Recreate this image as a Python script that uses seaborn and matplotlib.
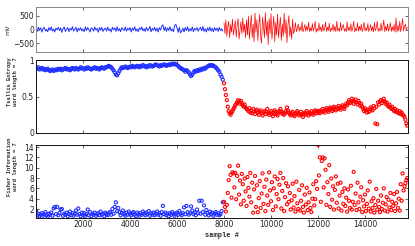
import numpy as np
import matplotlib
matplotlib.use("Agg")
import matplotlib.pyplot as plt
import seaborn as sns

# ---------------- data ----------------
# window/sample positions
blue_x = np.arange(0, 8000, 50)          # 160 windows before seizure onset
red_x = np.arange(8000, 15801, 40)       # 196 windows after onset

sig_blue = [40, -70, 85, -20, 60, -95, 30, 80, -50, 10, -80, 70, -30, 95, -60, 20, -90, 50, -10, 80,
            -40, 60, -105, 30, 90, -70, 0, 70, -80, 40, -20, 105, -60, 10, 80, -90, 50, -30, 60, -50,
            20, -80, 95, -40, 70, -10, -90, 60, 30, -60, 90, -20, 40, -100, 70, -30, 80, -70, 10, 50,
            -60, 90, -40, 20, -90, 80, -10, 60, -70, 100, -50, 30, -80, 70, 0, -40, 90, -60, 40, -20,
            70, -90, 50, -30, 100, -60, 20, -80, 60, -10, 90, -50, 30, -70, 80, -40, 10, 110, -80, 40,
            -30, 80, -60, 50, -90, 70, -20, 120, 170, -40, 90, -70, 60, -30, 100, -50, 20, -80, 140, 190,
            60, -100, 80, -120, -60, 50, -90, 70, -40, 100, -70, 30, -50, 90, -80, 40, -20, 70, -60, 20,
            80, -50, 110, -70, 30, -90, 60, -40, 90, -60, 40, -80, 70, -30, 50, -70, 80, -40, 20, -60]

sig_red = [250, -150, 350, -250, 100, 300, -300, 180, -100, 380, -200, 50, 320, -280, 150, 400, -350, -50, 280, -150,
           420, -100, 200, -300, 350,
           -200, 480, -350, 100, 520, -300, 200, -450, 600, -100, 350, -400, 150, 550, -250, -500, 450, 100, -300, 620,
           -200, 300, -550, 400, -150, 580, -350, 50, 480, -450, 250, -200, 560, -300, 100, 450, -400, 200, -250, 600,
           -150, 350, -480, 150, 500, -250, 100, -350, 380, -150,
           -50, 250, -80, 50, 200, -60, 100, -40, 280, -90, 30, 180, -70, 120, -30, 260, -80, 60, -50, 220,
           -60, 80, 300, -100, 40, -60, 240, -40, 100, -80, 190, -50, 20, 270, -70, 80, -40, 230, -90, 50,
           -30, 200, -60, 120, -80, 300, -50, 40, -70, 250, -40, 90, 180, -60, 30, -80, 280, -50, 100, -40,
           210, -70, 60, 300, -90, 40, -50, 240, -60, 120, -30, 190, -80, 50, 270, -60, 80, -40, 220, -70,
           30, 180, -50, 100, -90, 260, -40, 60, 300, -70, 40, -60, 230, -50, 90, 350, -80, 120, -40, 200,
           -60, 50, 250, -70, 100, -50, 180, -90, 420, -100, 150, -60, 300, -80, 120, 400, -50, 100, 200, -30, 80]

tsallis_blue = [0.89, 0.88, 0.9, 0.87, 0.88, 0.89, 0.87, 0.88, 0.86, 0.87, 0.88, 0.86, 0.85, 0.86, 0.87, 0.85, 0.86, 0.87, 0.86, 0.88,
                0.87, 0.88, 0.86, 0.87, 0.88, 0.89, 0.87, 0.88, 0.87, 0.86, 0.88, 0.89, 0.88, 0.87, 0.89, 0.88, 0.87, 0.88, 0.9, 0.89,
                0.88, 0.87, 0.89, 0.88, 0.9, 0.89, 0.88, 0.87, 0.88, 0.89, 0.9, 0.88, 0.89, 0.88, 0.87, 0.89, 0.9, 0.89, 0.88, 0.9,
                0.9, 0.91, 0.92, 0.91, 0.9, 0.88, 0.86, 0.83, 0.8, 0.79, 0.82, 0.85, 0.88, 0.9, 0.89, 0.9, 0.91, 0.9, 0.89, 0.9,
                0.91, 0.9, 0.92, 0.91, 0.9, 0.91, 0.92, 0.91, 0.9, 0.92, 0.91, 0.93, 0.92, 0.91, 0.9, 0.92, 0.91, 0.93, 0.92, 0.91,
                0.92, 0.93, 0.94, 0.93, 0.92, 0.91, 0.93, 0.92, 0.93, 0.94, 0.93, 0.92, 0.93, 0.94, 0.93, 0.94, 0.95, 0.94, 0.95, 0.94,
                0.93, 0.92, 0.9, 0.89, 0.88, 0.87, 0.86, 0.84, 0.86, 0.85, 0.83, 0.8, 0.78, 0.8, 0.83, 0.85, 0.84, 0.86, 0.85, 0.87,
                0.86, 0.88, 0.87, 0.89, 0.88, 0.9, 0.91, 0.92, 0.93, 0.92, 0.93, 0.92, 0.91, 0.9, 0.88, 0.86, 0.84, 0.8, 0.77, 0.73]

tsallis_red = [0.68, 0.6, 0.52, 0.45, 0.36, 0.3, 0.27, 0.25, 0.28, 0.3,
               0.33, 0.35, 0.38, 0.4, 0.42, 0.45, 0.43, 0.4, 0.44, 0.41, 0.38, 0.36, 0.39, 0.35, 0.33,
               0.32, 0.3, 0.34, 0.28, 0.31, 0.27, 0.33, 0.29, 0.26, 0.3, 0.32, 0.28, 0.25, 0.29, 0.31, 0.27, 0.24, 0.28, 0.3, 0.26,
               0.29, 0.33, 0.27, 0.25, 0.28, 0.3, 0.26, 0.23, 0.27, 0.31, 0.29, 0.26, 0.24, 0.28, 0.3, 0.33, 0.29, 0.26, 0.28, 0.25,
               0.27, 0.3, 0.35, 0.31, 0.28, 0.26, 0.24, 0.27, 0.29, 0.25, 0.23, 0.26, 0.28, 0.3, 0.27, 0.24, 0.26, 0.29, 0.25, 0.22,
               0.26, 0.28, 0.25, 0.3, 0.27, 0.24, 0.28, 0.26, 0.3, 0.27, 0.25, 0.29, 0.31, 0.27, 0.3,
               0.28, 0.3, 0.27, 0.31, 0.29, 0.33, 0.3, 0.28, 0.32, 0.34,
               0.31, 0.29, 0.33, 0.35, 0.32, 0.3, 0.34, 0.36, 0.33, 0.31,
               0.35, 0.33, 0.37, 0.34, 0.32, 0.36, 0.38, 0.35, 0.33, 0.37,
               0.4, 0.38, 0.42, 0.45, 0.41, 0.43, 0.47, 0.44, 0.4, 0.43,
               0.46, 0.42, 0.39, 0.44, 0.41, 0.37, 0.4, 0.36, 0.33, 0.3,
               0.34, 0.31, 0.28, 0.32, 0.29, 0.3, 0.35, 0.33, 0.31, 0.37,
               0.34, 0.13, 0.36, 0.12, 0.42, 0.39, 0.43, 0.45, 0.41, 0.44,
               0.47, 0.43, 0.4, 0.42, 0.38, 0.36, 0.39, 0.35, 0.33, 0.36,
               0.32, 0.3, 0.33, 0.29, 0.31, 0.28, 0.27, 0.3, 0.26, 0.28,
               0.25, 0.24, 0.22, 0.18, 0.13, 0.1]

fisher_blue = [1.6, 0.8, 1.1, 0.6, 0.9, 1.2, 0.7, 1.0, 1.4, 0.8, 0.5, 1.1, 0.9, 1.3, 0.7, 2.1, 2.4, 1.0, 2.4, 0.8,
               1.2, 1.9, 2.0, 0.7, 1.1, 0.9, 1.3, 0.6, 1.0, 1.5, 0.8, 1.2, 0.7, 1.1, 1.7, 0.9, 2.1, 1.0, 0.6, 1.3,
               0.9, 1.2, 0.7, 1.0, 1.9, 0.8, 1.4, 0.6, 1.1, 0.9, 1.3, 0.7, 1.0, 1.2, 0.8, 1.5, 0.9, 1.1, 0.6, 1.3,
               1.0, 0.8, 1.2, 1.4, 0.9, 2.0, 1.1, 2.4, 3.3, 1.6, 2.2, 1.4, 0.8, 1.2, 1.7, 1.0, 0.7, 1.3, 0.9, 1.5,
               1.1, 0.8, 1.2, 1.4, 0.9, 0.6, 1.3, 1.0, 0.7, 1.2, 0.9, 1.5, 1.1, 0.8, 1.3, 1.0, 1.6, 0.7, 1.2, 0.9,
               1.3, 0.8, 1.1, 1.5, 0.9, 1.2, 0.7, 1.4, 2.6, 1.0, 1.3, 0.8, 1.1, 0.6, 1.2, 0.9, 1.4, 1.0, 0.7, 1.1,
               1.3, 0.9, 1.6, 1.1, 0.8, 1.2, 2.3, 1.0, 2.6, 1.4, 0.9, 1.2, 2.5, 1.7, 1.0, 1.3, 0.8, 1.9, 1.2, 3.6,
               1.1, 3.6, 1.4, 2.7, 0.9, 1.8, 1.2, 0.8, 1.5, 1.0, 1.3, 0.7, 1.1, 1.4, 0.9, 1.2, 0.8, 1.0, 1.6, 3.3]

fisher_red = [3.4, 2.4, 1.5, 2.8, 5.1, 7.6, 10.3, 8.6, 4.2, 9.1,
              8.9, 6.2, 9.0, 3.9, 8.4, 10.4, 4.8, 7.5, 2.9, 8.8,
              6.8, 3.6, 7.9, 5.4, 2.6, 8.2, 6.1, 4.4, 9.0, 3.3,
              7.1, 1.3, 5.8, 8.4, 2.4, 6.6, 1.4, 4.1, 7.4, 2.2,
              5.0, 8.9, 3.0, 6.3, 1.6, 7.7, 4.6, 2.8, 9.1, 5.6,
              3.5, 7.2, 1.8, 6.0, 8.3, 2.5, 4.9, 7.8, 3.9, 6.7,
              9.0, 2.1, 5.5, 8.0, 1.6, 4.3, 7.0, 2.9, 6.4, 3.4,
              5.1, 1.9, 3.7, 6.9, 2.3, 4.5, 1.5, 7.3, 3.1, 2.0,
              5.7, 1.7, 3.6, 6.6, 2.4, 1.3, 4.8, 2.9, 6.1, 1.8,
              3.3, 5.2, 2.2, 1.4, 4.0, 6.8, 2.7, 3.9, 7.4, 5.9,
              14.4, 8.5, 12.0, 3.4, 11.3, 12.0, 6.2, 11.8, 9.6, 2.8,
              7.2, 4.9, 10.5, 2.4, 7.9, 3.8, 6.4, 1.9, 5.7, 8.3,
              3.2, 6.9, 2.1, 4.6, 7.1, 1.7, 5.3, 3.0, 6.0, 2.6,
              4.2, 1.5, 5.8, 3.6, 2.2, 6.5, 1.9, 3.4, 9.2, 2.8,
              5.0, 1.8, 7.1, 3.3, 2.0, 4.4, 6.2, 1.4, 3.7, 2.5,
              4.8, 1.6, 3.0, 5.6, 2.1, 7.3, 1.5, 3.5, 2.2, 4.1,
              1.3, 2.8, 5.9, 1.9, 3.6, 2.4, 1.4, 4.6, 2.0, 3.2,
              6.0, 1.7, 2.9, 4.3, 1.5, 3.8, 2.3, 5.1, 1.8, 3.4,
              2.6, 4.9, 1.6, 3.1, 5.3, 2.2, 4.0, 1.7, 6.8, 3.6,
              8.9, 5.6, 6.4, 7.0, 7.6, 8.0]

xticks = [2000, 4000, 6000, 8000, 10000, 12000, 14000]

# ---------------- plotting ----------------
sns.set_theme(style="white")
plt.rcParams['font.family'] = ['DejaVu Sans']

W, H = 415, 246
fig = plt.figure(figsize=(W / 100, H / 100), dpi=100)

def rect(top, bottom, left=36, right=408):
    return [left / W, (H - bottom) / H, (right - left) / W, (bottom - top) / H]

ax1 = fig.add_axes(rect(7, 52))
ax2 = fig.add_axes(rect(60, 133))
ax3 = fig.add_axes(rect(145, 218))

BLUE = '#1f2fff'
RED = '#ff0000'

sns.lineplot(x=blue_x, y=sig_blue, ax=ax1, color=BLUE, linewidth=0.7, estimator=None)
sns.lineplot(x=red_x, y=sig_red, ax=ax1, color=RED, linewidth=0.5, estimator=None)

sc_kw = dict(marker='o', s=5, linewidth=0.8, legend=False)
sns.scatterplot(x=blue_x, y=tsallis_blue, ax=ax2, fc='none', ec=BLUE, **sc_kw)
sns.scatterplot(x=red_x, y=tsallis_red, ax=ax2, fc='none', ec=RED, **sc_kw)
sns.scatterplot(x=blue_x, y=fisher_blue, ax=ax3, fc='none', ec=BLUE, **sc_kw)
sns.scatterplot(x=red_x, y=fisher_red, ax=ax3, fc='none', ec=RED, **sc_kw)

xlim = (0, 15830)
ax1.set_ylim(-820, 820)
ax1.set_yticks([-500, 0, 500])
ax2.set_ylim(0, 1)
ax2.set_yticks([0, 0.5, 1])
ax2.set_yticklabels(['0', '0.5', '1'])
ax3.set_ylim(0.26, 14.4)
ax3.set_yticks([2, 4, 6, 8, 10, 12, 14])

mono = dict(family='Liberation Mono', fontweight='bold', fontsize=3.9)
ax1.set_ylabel('mV', fontsize=4.6)
ax1.yaxis.set_label_coords(-0.068, 0.5)
ax2.set_ylabel('Tsallis Entropy\nword length = 7', linespacing=1.05, ha='center', va='center', **mono)
ax2.yaxis.set_label_coords(-0.063, 0.70)
ax3.set_ylabel('Fisher Information\nword length = 7', linespacing=1.05, ha='center', va='center', **mono)
ax3.yaxis.set_label_coords(-0.063, 0.70)
ax3.set_xlabel('sample #', labelpad=2, family='Liberation Mono', fontweight='bold', fontsize=5.0)

for i, ax in enumerate((ax1, ax2, ax3)):
    ax.set_xlim(*xlim)
    ax.set_xticks(xticks)
    ax.tick_params(direction='in', length=2.5, width=0.5, labelsize=5.5, pad=1.5,
                   top=True, right=True, bottom=True, left=True, colors='#222222')
    ax.set_facecolor('white')
    for sp in ax.spines.values():
        sp.set_visible(True)
        sp.set_linewidth(0.7)
        sp.set_color('#888888' if i == 0 else '#111111')
    if i < 2:
        ax.set_xticklabels([])
    ax.grid(False)

fig.savefig('out.png', dpi=100, facecolor='white')
